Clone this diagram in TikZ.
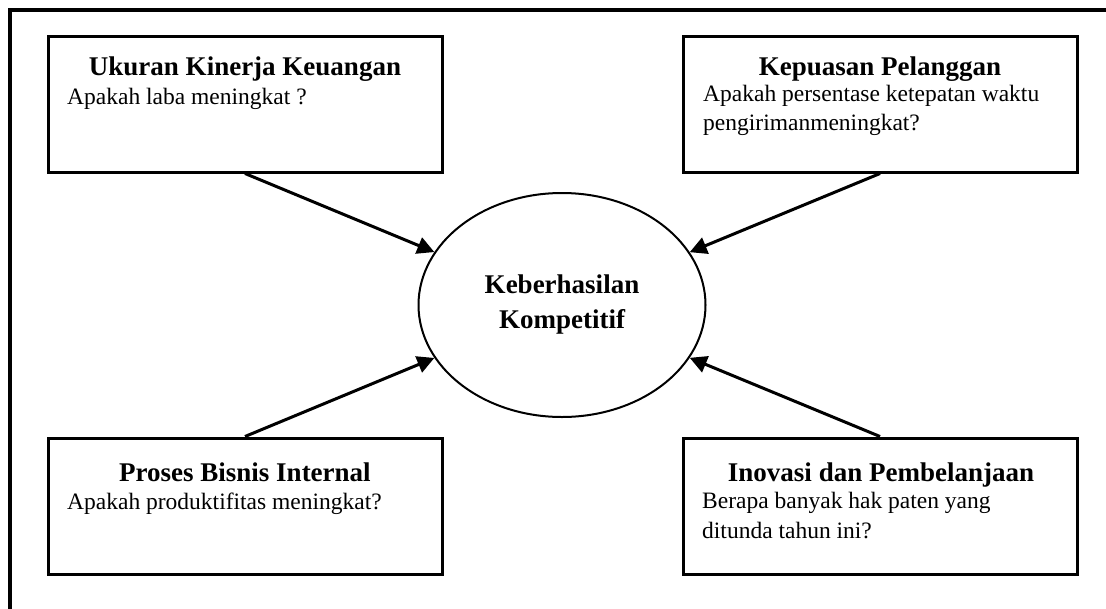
\documentclass[tikz,border=0pt]{standalone}
\usepackage{fontspec}
\setmainfont{Liberation Serif}
\usepackage{tikz}
\usetikzlibrary{calc,arrows.meta,shapes.geometric}
\definecolor{garis}{HTML}{000000}
\tikzset{
  bingkai/.style={draw=garis, line width=3.3pt},
  kotak/.style={draw=garis, line width=3pt, minimum width=394pt, minimum height=136pt, inner sep=0pt},
  elips/.style={ellipse, draw=garis, line width=2pt, minimum width=287pt, minimum height=224pt,
    inner sep=0pt, align=center, font=\bfseries\fontsize{27}{35}\selectfont},
  judul/.style={anchor=base, inner sep=0pt, font=\bfseries\fontsize{27}{32}\selectfont},
  isi/.style={anchor=base west, inner sep=0pt, font=\fontsize{23.5}{30}\selectfont},
  panah/.style={draw=garis, line width=3pt, -{Triangle[length=17pt,width=17pt]}},
}

\begin{document}
\begin{tikzpicture}[x=1pt,y=-1pt]
  \path[use as bounding box, clip] (0,0) rectangle (1106,608);
  \draw[bingkai] (10,10) rectangle (1130,630);

  % empat kotak perspektif
  \node[kotak] (keu) at (245,104) {};
  \node[kotak] (plg) at (880,104) {};
  \node[kotak] (bis) at (245,506) {};
  \node[kotak] (ino) at (880,506) {};

  \node[elips] (hasil) at (562,305) {Keberhasilan\\Kompetitif};

  \node[judul] (keuJ) at (245,75) {Ukuran Kinerja Keuangan};
  \node[isi] (keuA) at (67,104) {Apakah laba meningkat ?};

  \node[judul] (plgJ) at (880,75) {Kepuasan Pelanggan};
  \node[isi] (plgA) at (703,101) {Apakah persentase ketepatan waktu};
  \node[isi] (plgB) at (703,130) {pengirimanmeningkat?};

  \node[judul] (bisJ) at (245,481) {Proses Bisnis Internal};
  \node[isi] (bisA) at (67,509) {Apakah produktifitas meningkat?};

  \node[judul] (inoJ) at (881,481) {Inovasi dan Pembelanjaan};
  \node[isi] (inoA) at (702,508) {Berapa banyak hak paten yang};
  \node[isi] (inoB) at (702,538) {ditunda tahun ini?};

  % panah ke pusat
  \draw[panah] (keu.south) -- (hasil);
  \draw[panah] (plg.south) -- (hasil);
  \draw[panah] (bis.north) -- (hasil);
  \draw[panah] (ino.north) -- (hasil);
\end{tikzpicture}
\end{document}
